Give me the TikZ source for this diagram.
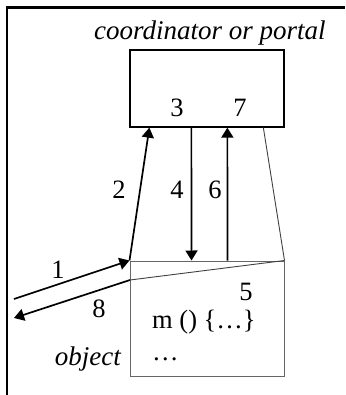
\documentclass[tikz,border=0pt]{standalone}
\usepackage{fontspec}
\setmainfont{Liberation Serif}
\usetikzlibrary{arrows.meta,positioning,calc}

\begin{document}
\begin{tikzpicture}[
    x=1pt, y=-1pt,
    font=\fontsize{26.5}{30}\selectfont,
    frame/.style={line width=2.4pt},
    box/.style={draw, line width=1.3pt, inner sep=0pt},
    objbox/.style={draw=black!60, line width=1pt, inner sep=0pt},
    edge/.style={-{Triangle[length=10pt, width=12pt]}, line width=1.7pt},
    thin/.style={draw=black!75, line width=0.9pt},
    lbl/.style={inner sep=0pt, anchor=base}
]
\useasboundingbox (0,0) rectangle (345,395);
% frame
\draw[frame] (345,7.5) -| (7,395);

% the two boxes
\node[box, minimum width=154pt, minimum height=77pt] (portal) at (207,88.5) {};
\node[objbox, minimum width=154pt, minimum height=115pt] (obj) at (207,318.5) {};
\node[lbl, font=\fontsize{27}{30}\itshape] (ptitle) at (210,40) {coordinator or portal};
\node[lbl, anchor=base east, font=\fontsize{27}{30}\itshape] (otitle) at (121,365) {object};

% free ends and anchor points
\coordinate (in) at (14,299);
\coordinate (out) at (14,318);
\coordinate (split) at (130,280);
\coordinate (p2) at ($(portal.south west)+(20,0)$);
\coordinate (p4) at ($(portal.south west)+(62,0)$);
\coordinate (o4) at ($(obj.north west)+(62,0)$);
\coordinate (p6) at ($(portal.south west)+(98,0)$);
\coordinate (o6) at ($(obj.north west)+(98,0)$);
\coordinate (pr) at ($(portal.south west)+(134,0)$);

% connectors
\draw[edge] (in) -- (obj.north west);
\draw[edge] (obj.north west) -- (p2);
\draw[edge] (p4) -- (o4);
\draw[edge] (o6) -- (p6);
\draw[edge] (split) -- (out);
\draw[thin] (pr) -- (obj.north east);
\draw[thin] (split) -- (obj.north east);

% numbers
\node[lbl] (n1) at (58,278) {1};
\node[lbl] (n2) at (119,198) {2};
\node[lbl] (n3) at (177,117) {3};
\node[lbl] (n4) at (177,198) {4};
\node[lbl] (n5) at (246,300) {5};
\node[lbl] (n6) at (215,198) {6};
\node[lbl] (n7) at (240,117) {7};
\node[lbl] (n8) at (99,317) {8};

% object body
\node[lbl, anchor=base west] (meth) at (152,328) {m () \{\ldots\}};
\node[lbl, anchor=base west] (rest) at (152,360) {\ldots};
\end{tikzpicture}
\end{document}
